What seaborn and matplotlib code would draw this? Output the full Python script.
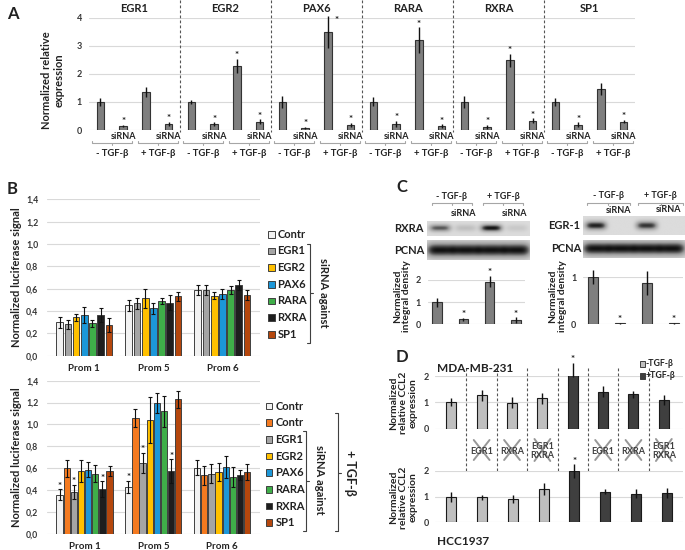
import numpy as np
import pandas as pd
import matplotlib
matplotlib.use("Agg")
import matplotlib.pyplot as plt
import matplotlib.transforms as mtransforms
from matplotlib.lines import Line2D
from matplotlib.patches import Rectangle
from matplotlib.container import BarContainer
from matplotlib.colors import LinearSegmentedColormap
import seaborn as sns

# ---------------- data ----------------
a_genes = ["EGR1", "EGR2", "PAX6", "RARA", "RXRA", "SP1"]
a_conditions = ["- TGF-β", "siRNA", "+ TGF-β", "siRNA"]
a_values = [[1.00, 0.14, 1.35, 0.21],
            [1.00, 0.20, 2.28, 0.29],
            [1.00, 0.08, 3.48, 0.18],
            [1.00, 0.22, 3.20, 0.14],
            [1.00, 0.12, 2.48, 0.33],
            [1.00, 0.19, 1.46, 0.30]]
a_errors = [[0.13, 0.05, 0.17, 0.08],
            [0.08, 0.07, 0.25, 0.09],
            [0.20, 0.03, 0.56, 0.07],
            [0.16, 0.10, 0.45, 0.06],
            [0.20, 0.07, 0.23, 0.08],
            [0.13, 0.08, 0.22, 0.05]]
a_stars = [[0, 1, 0, 1], [0, 1, 1, 1], [0, 1, 1, 1],
           [0, 1, 1, 1], [0, 1, 1, 1], [0, 1, 0, 1]]
a_yticks = [0, 1, 2, 3, 4]

b_proms = ["Prom 1", "Prom 5", "Prom 6"]
b_yticks = [0.0, 0.2, 0.4, 0.6, 0.8, 1.0, 1.2, 1.4]
b_yticklabels = ["0,0", "0,2", "0,4", "0,6", "0,8", "1,0", "1,2", "1,4"]

b1_targets = ["Contr", "EGR1", "EGR2", "PAX6", "RARA", "RXRA", "SP1"]
b1_colors = ["#f2f2f2", "#a5a5a5", "#ffc000", "#1c97d8", "#3fae49", "#1e1e1e", "#b5470d"]
b1_prom1 = [0.300, 0.280, 0.343, 0.365, 0.290, 0.365, 0.275]
b1_prom5 = [0.450, 0.470, 0.515, 0.424, 0.490, 0.475, 0.530]
b1_prom6 = [0.585, 0.585, 0.537, 0.550, 0.585, 0.630, 0.540]
b1_err1 = [0.050, 0.040, 0.030, 0.070, 0.030, 0.065, 0.065]
b1_err5 = [0.050, 0.050, 0.085, 0.050, 0.030, 0.065, 0.040]
b1_err6 = [0.045, 0.045, 0.030, 0.045, 0.035, 0.045, 0.045]

b2_targets = ["Contr", "Contr ", "EGR1", "EGR2", "PAX6", "RARA", "RXRA", "SP1"]
b2_colors = ["#f2f2f2", "#f47a20", "#a5a5a5", "#ffc000", "#1c97d8", "#3fae49", "#1e1e1e", "#b5470d"]
b2_prom1 = [0.357, 0.598, 0.380, 0.573, 0.585, 0.550, 0.410, 0.573]
b2_prom5 = [0.427, 1.058, 0.647, 1.037, 1.195, 1.120, 0.573, 1.229]
b2_prom6 = [0.604, 0.534, 0.550, 0.564, 0.607, 0.518, 0.537, 0.564]
b2_err1 = [0.050, 0.075, 0.065, 0.100, 0.067, 0.077, 0.070, 0.046]
b2_err5 = [0.058, 0.080, 0.090, 0.210, 0.095, 0.140, 0.107, 0.080]
b2_err6 = [0.067, 0.090, 0.090, 0.080, 0.100, 0.090, 0.045, 0.077]
b2_stars1 = [1, 0, 1, 0, 0, 0, 1, 0]
b2_stars5 = [1, 0, 1, 0, 0, 0, 1, 0]
b2_stars6 = [0, 0, 0, 0, 0, 0, 0, 0]

c_lanes = ["ctrl", "siRNA", "tgf", "tgf_siRNA"]
c_rxra_values = [1.00, 0.23, 1.93, 0.20]
c_rxra_errors = [0.20, 0.07, 0.25, 0.12]
c_rxra_stars = [0, 1, 1, 1]
c_egr1_values = [1.00, 0.02, 0.88, 0.02]
c_egr1_errors = [0.15, 0.01, 0.25, 0.01]
c_egr1_stars = [0, 1, 0, 1]
c_rxra_bands = [0.75, 0.22, 1.00, 0.15]
c_egr1_bands = [0.95, 0.00, 0.88, 0.00]
c_pcna_bands = [1.00, 1.00, 1.00, 1.00]

d_conditions = ["", "EGR1", "RXRA", "EGR1\nRXRA", "", "EGR1", "RXRA", "EGR1\nRXRA"]
d_tgf = ["-TGF-β"] * 4 + ["+TGF-β"] * 4
d_mda_values = [1.00, 1.26, 0.99, 1.15, 2.22, 1.41, 1.30, 1.09]
d_mda_errors = [0.15, 0.22, 0.20, 0.22, 0.27, 0.22, 0.13, 0.19]
d_hcc_values = [1.00, 0.97, 0.90, 1.29, 1.99, 1.20, 1.12, 1.13]
d_hcc_errors = [0.20, 0.10, 0.15, 0.23, 0.27, 0.08, 0.16, 0.20]
d_stars = [0, 0, 0, 0, 1, 0, 0, 0]
d_yticks = [0, 1, 2]

# ---------------- style ----------------
sns.set_theme(style="white")
plt.rcParams["font.family"] = ["Lato", "DejaVu Sans"]
TXT = "#222222"
TICK = "#363636"
GRID = "#d9d9d9"
EDGE = "#333333"

W, H = 685, 550
fig = plt.figure(figsize=(W / 100, H / 100), dpi=100)


def add_ax(x0, y0, x1, y1):
    return fig.add_axes([x0 / W, 1 - y1 / H, (x1 - x0) / W, (y1 - y0) / H])


def ftext(x, y, s, **kw):
    kw.setdefault("color", TXT)
    fig.text(x / W, 1 - y / H, s, **kw)


def fline(xs, ys, **kw):
    fig.add_artist(Line2D([x / W for x in xs], [1 - y / H for y in ys],
                          transform=fig.transFigure, **kw))


def fy(py):
    return 1 - py / H


def style_axis(ax, ymax, ticks, labels, fs=6.5, pad=4):
    ax.set_ylim(0, ymax)
    ax.set_yticks(ticks)
    ax.set_yticklabels(labels, fontsize=fs, fontweight="bold", color=TICK)
    ax.grid(False)
    ax.grid(axis="y", color=GRID, lw=0.8)
    ax.set_axisbelow(True)
    for s in ax.spines.values():
        s.set_visible(False)
    ax.tick_params(axis="y", length=0, pad=pad)
    ax.tick_params(axis="x", length=0)
    ax.set_xlabel("")
    ax.set_ylabel("")


def errbars(ax, xs, vals, errs, capsize=0, lw=1.0):
    eb = ax.errorbar(xs, vals, yerr=errs, fmt="none", ecolor="#111111",
                     elinewidth=lw, capsize=capsize, capthick=lw)
    for c in eb.get_children():
        c.set_clip_on(False)


def star(ax, x, top, dx=0, dy=0.5, fs=7):
    ax.annotate("*", (x, top), xytext=(dx, dy), textcoords="offset points",
                ha="center", va="baseline", fontsize=fs, fontweight="bold",
                color=TXT, annotation_clip=False)


def single_bars(ax, values, errors, width, color=None, hue=None, palette=None, lw=0.8):
    ids = [f"c{i}" for i in range(len(values))]
    df = pd.DataFrame({"id": ids, "val": values})
    if hue is not None:
        df["hue"] = hue
        sns.barplot(data=df, x="id", y="val", hue="hue", palette=palette, order=ids,
                    dodge=False, width=width, saturation=1, edgecolor="#1a1a1a",
                    linewidth=lw, errorbar=None, legend=False, ax=ax)
    else:
        sns.barplot(data=df, x="id", y="val", color=color, order=ids, width=width,
                    saturation=1, edgecolor=EDGE, linewidth=lw, errorbar=None, ax=ax)
    xs = np.asarray(ax.get_xticks(), dtype=float)
    errbars(ax, xs, values, errors)
    ax.set_xticks(xs)
    ax.set_xticklabels([])
    return xs


# ================= Panel A =================
ftext(7, 14, "A", fontsize=12, fontweight="bold", ha="left", va="center")
axA = add_ax(89, 17.5, 635, 130)
a_flat_vals = [v for row in a_values for v in row]
a_flat_errs = [e for row in a_errors for e in row]
xsA = single_bars(axA, a_flat_vals, a_flat_errs, width=0.33, color="#7f7f7f")
style_axis(axA, 4, a_yticks, [str(t) for t in a_yticks], fs=6.5, pad=5)
axA.set_xlim(-0.5, len(a_flat_vals) - 0.5)
trA = mtransforms.blended_transform_factory(axA.transData, fig.transFigure)
for g, gene in enumerate(a_genes):
    base = g * 4
    gx = (xsA[base] + xsA[base + 3]) / 2
    axA.text(gx, fy(8), gene, transform=trA, ha="center", va="center",
             fontsize=8, fontweight="bold", color=TXT)
    for k in range(4):
        top = a_values[g][k] + a_errors[g][k]
        if a_stars[g][k]:
            if top > 3.9:
                star(axA, xsA[base + k], top, dx=6, dy=-5)
            else:
                star(axA, xsA[base + k], top)
    for j, lab in ((0, a_conditions[0]), (2, a_conditions[2])):
        x1, x2 = xsA[base + j], xsA[base + j + 1]
        axA.text(x2, fy(137), a_conditions[j + 1], transform=trA, ha="center",
                 va="center", fontsize=6.5, fontweight="bold", color=TXT)
        l, r = x1 - 0.35, x2 + 0.4
        axA.plot([l, l, r, r], [fy(141), fy(143), fy(143), fy(141)], transform=trA,
                 color="#a6a6a6", lw=0.8, clip_on=False)
        m = (l + r) / 2
        axA.plot([m, m], [fy(143), fy(145)], transform=trA, color="#a6a6a6",
                 lw=0.8, clip_on=False)
        axA.text(m, fy(154), lab, transform=trA, ha="center", va="center",
                 fontsize=6.8, fontweight="bold", color=TXT)
    if g < len(a_genes) - 1:
        bx = (xsA[base + 3] + xsA[base + 4]) / 2
        axA.plot([bx, bx], [fy(0), fy(132)], transform=trA, color="#555555",
                 lw=0.8, ls=(0, (2.5, 2)), clip_on=False)
ftext(53, 80, "Normalized relative\nexpression", rotation=90, ha="center",
      va="center", fontsize=8, fontweight="bold", linespacing=1.15)


# ================= Panel B =================
def b_chart(ax, targets, colors, vals, errs, stars, gap):
    rows = []
    for p, prom in enumerate(b_proms):
        for t, tg in enumerate(targets):
            rows.append({"prom": prom, "target": tg, "val": vals[p][t]})
    df = pd.DataFrame(rows)
    sns.barplot(data=df, x="prom", y="val", hue="target", order=b_proms,
                hue_order=targets, palette=dict(zip(targets, colors)),
                width=0.83, gap=gap, saturation=1, edgecolor="#404040",
                linewidth=0.7, errorbar=None, legend=False, ax=ax)
    bar_conts = [c for c in ax.containers if isinstance(c, BarContainer)]
    for t, cont in enumerate(bar_conts):
        for p, bar in enumerate(cont.patches):
            cx = bar.get_x() + bar.get_width() / 2
            errbars(ax, [cx], [vals[p][t]], [errs[p][t]], capsize=1.2, lw=0.8)
            if stars is not None and stars[p][t]:
                star(ax, cx, vals[p][t] + errs[p][t])
    style_axis(ax, 1.4, b_yticks, b_yticklabels, fs=6.3, pad=6)
    ax.set_xticks(range(len(b_proms)))
    ax.set_xticklabels(b_proms, fontsize=7, fontweight="bold", color=TXT)
    ax.tick_params(axis="x", pad=6)


def legend_block(x_sq, x_txt, y0, labels, colors, step=16.67):
    for k, (lab, col) in enumerate(zip(labels, colors)):
        yc = y0 + k * step
        fig.add_artist(Rectangle((x_sq / W, fy(yc + 3.3)), 6.6 / W, 6.6 / H,
                                 transform=fig.transFigure, facecolor=col,
                                 edgecolor="#404040", lw=0.7))
        ftext(x_txt, yc, lab.strip(), ha="left", va="center", fontsize=8,
              fontweight="bold")


def brace(x, y0, y1, ymid, hook=3):
    fline([x - hook, x, x, x - hook], [y0, y0, y1, y1], color="#404040", lw=0.8)
    fline([x, x + hook], [ymid, ymid], color="#404040", lw=0.8)


ftext(7, 189, "B", fontsize=12, fontweight="bold", ha="left", va="center")
axB1 = add_ax(46.7, 199.3, 260, 355.7)
b_chart(axB1, b1_targets, b1_colors, [b1_prom1, b1_prom5, b1_prom6],
        [b1_err1, b1_err5, b1_err6], None, gap=0.18)
legend_block(268, 277.5, 234.3, b1_targets, b1_colors)
brace(310, 244, 342.7, 293)
ftext(323, 293, "siRNA against", rotation=-90, ha="center", va="center",
      fontsize=8, fontweight="bold")
ftext(17, 277, "Normalized luciferase signal", rotation=90, ha="center",
      va="center", fontsize=8, fontweight="bold")

axB2 = add_ax(46.7, 380.7, 260, 533.7)
b_chart(axB2, b2_targets, b2_colors, [b2_prom1, b2_prom5, b2_prom6],
        [b2_err1, b2_err5, b2_err6], [b2_stars1, b2_stars5, b2_stars6], gap=0.12)
legend_block(265.5, 275.5, 406, b2_targets, b2_colors)
brace(306, 430.7, 530.7, 481)
ftext(320, 480, "siRNA against", rotation=-90, ha="center", va="center",
      fontsize=8, fontweight="bold")
brace(338, 413, 530.7, 473)
ftext(350, 473, "+ TGF-β", rotation=-90, ha="center", va="center",
      fontsize=9, fontweight="bold")
ftext(17, 457, "Normalized luciferase signal", rotation=90, ha="center",
      va="center", fontsize=8, fontweight="bold")

# ================= Panel C =================
ftext(396, 187, "C", fontsize=12, fontweight="bold", ha="left", va="center")
blot_cmap = LinearSegmentedColormap.from_list("blot", ["#dcdcdc", "#9a9a9a", "#111111"])


def blot(x0, y0, x1, y1, bands, sharp=0.42, thick=0.55):
    ax = add_ax(x0, y0, x1, y1)
    nx, ny = 240, 50
    xx = np.linspace(0, len(bands), nx)
    yy = np.linspace(-1, 1, ny)
    img = np.zeros((ny, nx))
    for i, b in enumerate(bands):
        prof_x = np.exp(-((xx - (i + 0.5)) / sharp) ** 4)
        prof_y = np.exp(-(yy / thick) ** 2)
        img += b * prof_y[:, None] * prof_x[None, :]
    img = np.clip(img, 0, 1)
    ax.imshow(img, cmap=blot_cmap, vmin=0, vmax=1, aspect="auto",
              interpolation="bilinear")
    ax.set_axis_off()
    return ax


def header(xl, xr, y_txt, y_line, labels):
    for (a, b), lab in zip(((xl[0], xl[1]), (xr[0], xr[1])), labels):
        ftext((a + b) / 2, y_txt, lab, ha="center", va="center", fontsize=6.5,
              fontweight="bold")
        fline([a, a, b, b], [y_line + 2, y_line, y_line, y_line + 2],
              color="#a6a6a6", lw=0.8)
        fline([(a + b) / 2, (a + b) / 2], [y_line, y_line + 2], color="#a6a6a6", lw=0.8)


header((431.7, 471.7), (483.3, 523.3), 196, 203.3, ["- TGF-β", "+ TGF-β"])
ftext(463.3, 213.3, "siRNA", ha="center", va="center", fontsize=6.5, fontweight="bold")
ftext(515, 213.3, "siRNA", ha="center", va="center", fontsize=6.5, fontweight="bold")
blot(426.7, 220.7, 529.3, 236, c_rxra_bands, thick=0.45)
blot(426.7, 240, 529.3, 260, c_pcna_bands, sharp=0.55, thick=0.75)
ftext(409, 229, "RXRA", ha="center", va="center", fontsize=8, fontweight="bold")
ftext(409, 250.5, "PCNA", ha="center", va="center", fontsize=8, fontweight="bold")

header((586.7, 630), (638.3, 683.3), 195, 202.7, ["- TGF-β", "+ TGF-β"])
ftext(618.3, 210.5, "siRNA", ha="center", va="center", fontsize=6.5, fontweight="bold")
ftext(668.3, 209.5, "siRNA", ha="center", va="center", fontsize=6.5, fontweight="bold")
blot(583.3, 216, 685, 235, c_egr1_bands, thick=0.45)
blot(583.3, 240, 685, 258.3, c_pcna_bands, sharp=0.55, thick=0.75)
ftext(564.3, 225, "EGR-1", ha="center", va="center", fontsize=8, fontweight="bold")
ftext(566.7, 248.3, "PCNA", ha="center", va="center", fontsize=8, fontweight="bold")

axC1 = add_ax(428, 280, 525, 324.3)
xsC1 = single_bars(axC1, c_rxra_values, c_rxra_errors, width=0.37, color="#7f7f7f")
style_axis(axC1, 2, [0, 1, 2], ["0", "1", "2"], fs=6.5, pad=5)
for i, s in enumerate(c_rxra_stars):
    if s:
        star(axC1, xsC1[i], c_rxra_values[i] + c_rxra_errors[i])
ftext(402, 296, "Normalized\nintegral density", rotation=90, ha="center",
      va="center", fontsize=7.5, fontweight="bold", linespacing=1.1)

axC2 = add_ax(583.3, 277.3, 683.3, 324.3)
xsC2 = single_bars(axC2, c_egr1_values, c_egr1_errors, width=0.36, color="#7f7f7f")
style_axis(axC2, 1, [0, 1], ["0", "1"], fs=6.5, pad=5)
for i, s in enumerate(c_egr1_stars):
    if s:
        star(axC2, xsC2[i], c_egr1_values[i] + c_egr1_errors[i])
ftext(557.7, 296, "Normalized\nintegral density", rotation=90, ha="center",
      va="center", fontsize=7.5, fontweight="bold", linespacing=1.1)

# ================= Panel D =================
ftext(396, 357, "D", fontsize=12, fontweight="bold", ha="left", va="center")
d_palette = {"-TGF-β": "#bfbfbf", "+TGF-β": "#3f3f3f"}
axD1 = add_ax(435, 376, 683, 428.7)
xsD1 = single_bars(axD1, d_mda_values, d_mda_errors, width=0.33, hue=d_tgf,
                   palette=d_palette)
style_axis(axD1, 2, d_yticks, [str(t) for t in d_yticks], fs=6.5, pad=4.5)
axD2 = add_ax(435, 471, 683, 522.3)
xsD2 = single_bars(axD2, d_hcc_values, d_hcc_errors, width=0.33, hue=d_tgf,
                   palette=d_palette)
style_axis(axD2, 2, d_yticks, [str(t) for t in d_yticks], fs=6.5, pad=4.5)
for i, s in enumerate(d_stars):
    if s:
        star(axD1, xsD1[i], d_mda_values[i] + d_mda_errors[i])
        star(axD2, xsD2[i], d_hcc_values[i] + d_hcc_errors[i])
trD = mtransforms.blended_transform_factory(axD1.transData, fig.transFigure)
for i in range(len(xsD1) - 1):
    bx = (xsD1[i] + xsD1[i + 1]) / 2
    axD1.plot([bx, bx], [fy(368), fy(523)], transform=trD, color="#555555",
              lw=0.8, ls=(0, (2.5, 2)), clip_on=False)
for i, lab in enumerate(d_conditions):
    if not lab:
        continue
    axD1.text(xsD1[i], fy(451), lab, transform=trD, ha="center", va="center",
              fontsize=6.5, fontweight="bold", color="#404040", linespacing=1.0)
    hx = 0.26
    hy = 11 if "\n" in lab else 10
    axD1.plot([xsD1[i] - hx, xsD1[i] + hx], [fy(450 - hy), fy(450 + hy)],
              transform=trD, color="#8c8c8c", lw=1.4, alpha=0.9, clip_on=False)
    axD1.plot([xsD1[i] - hx, xsD1[i] + hx], [fy(450 + hy), fy(450 - hy)],
              transform=trD, color="#8c8c8c", lw=1.4, alpha=0.9, clip_on=False)
ftext(436.7, 369, "MDA-MB-231", ha="left", va="center", fontsize=8.5, fontweight="bold")
ftext(436.7, 541.7, "HCC1937", ha="left", va="center", fontsize=8.5, fontweight="bold")
ftext(403, 403, "Normalized\nrelative CCL2\nexpression", rotation=90, ha="center",
      va="center", fontsize=7.5, fontweight="bold", linespacing=1.1)
ftext(403, 497.5, "Normalized\nrelative CCL2\nexpression", rotation=90, ha="center",
      va="center", fontsize=7.5, fontweight="bold", linespacing=1.1)
for k, (lab, col) in enumerate(d_palette.items()):
    yc = 364 + k * 12
    fig.add_artist(Rectangle((639.5 / W, fy(yc + 2.7)), 5.4 / W, 5.4 / H,
                             transform=fig.transFigure, facecolor=col,
                             edgecolor="#404040", lw=0.7))
    ftext(645.5, yc, lab, ha="left", va="center", fontsize=6.3, fontweight="bold")

fig.savefig("out.png", dpi=100)
